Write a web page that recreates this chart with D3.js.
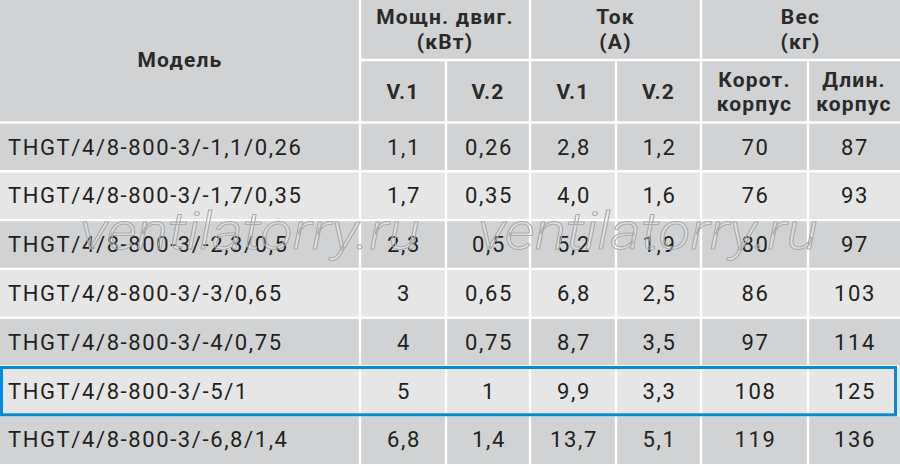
<!DOCTYPE html>
<html>
<head>
<meta charset="utf-8">
<script src="https://cdn.jsdelivr.net/npm/d3@7"></script>
<style>
  html, body { margin: 0; padding: 0; background: #fff; }
  svg { display: block; }
</style>
</head>
<body>
<script>
// table data
const models = [
  'THGT/4/8-800-3/-1,1/0,26',
  'THGT/4/8-800-3/-1,7/0,35',
  'THGT/4/8-800-3/-2,3/0,5',
  'THGT/4/8-800-3/-3/0,65',
  'THGT/4/8-800-3/-4/0,75',
  'THGT/4/8-800-3/-5/1',
  'THGT/4/8-800-3/-6,8/1,4'
]
const powerV1 = [1.1, 1.7, 2.3, 3, 4, 5, 6.8]
const powerV2 = [0.26, 0.35, 0.5, 0.65, 0.75, 1, 1.4]
const currentV1 = [2.8, 4.0, 5.2, 6.8, 8.7, 9.9, 13.7]
const currentV2 = [1.2, 1.6, 1.9, 2.5, 3.5, 3.3, 5.1]
const weightShort = [70, 76, 80, 86, 97, 108, 119]
const weightLong = [87, 93, 97, 103, 114, 125, 136]
const groupHeaders = [['Мощн. двиг.', '(кВт)'], ['Ток', '(А)'], ['Вес', '(кг)']]
const subHeaders = [['V.1'], ['V.2'], ['V.1'], ['V.2'], ['Корот.', 'корпус'], ['Длин.', 'корпус']]
const highlighted = 'THGT/4/8-800-3/-5/1'
const watermark = 'ventilatorry.ru'

const width = 900
const height = 466
const headerH = 122.5
const subTop = 60
const colEdges = [0, 360, 446, 530, 616, 701, 808, 900]

const comma = v => String(v).replace('.', ',')
const oneDec = v => d3.format('.1f')(v).replace('.', ',')

const columns = [
  { values: models, fmt: d => d },
  { values: powerV1, fmt: comma },
  { values: powerV2, fmt: comma },
  { values: currentV1, fmt: oneDec },
  { values: currentV2, fmt: oneDec },
  { values: weightShort, fmt: comma },
  { values: weightLong, fmt: comma }
]

const svg = d3.select('body').append('svg')
  .attr('width', width)
  .attr('height', height)

const y = d3.scaleBand()
  .domain(models)
  .range([headerH, headerH + 48.8 * models.length])

const dark = '#d1d2d4'
const light = '#e6e6e6'
const ink = '#231f20'
const font = 'Roboto, "Noto Sans", sans-serif'

// header background
svg.append('rect')
  .attr('x', 0).attr('y', 0)
  .attr('width', width).attr('height', headerH)
  .attr('fill', dark)

// row backgrounds
svg.selectAll('rect.row')
  .data(models)
  .enter().append('rect')
  .attr('class', 'row')
  .attr('x', 0)
  .attr('y', d => y(d))
  .attr('width', width)
  .attr('height', y.bandwidth())
  .attr('fill', (d, i) => i % 2 == 0 ? dark : light)

// grid lines
const lines = svg.append('g')
  .attr('stroke', '#fff')
  .attr('stroke-width', 2.4)

lines.append('line')
  .attr('x1', colEdges[1]).attr('x2', width)
  .attr('y1', subTop).attr('y2', subTop)

colEdges.slice(1, -1).forEach((x, i) => {
  lines.append('line')
    .attr('x1', x).attr('x2', x)
    .attr('y1', (i % 2 == 1) ? subTop : 0)
    .attr('y2', height)
})

models.forEach(m => {
  lines.append('line')
    .attr('x1', 0).attr('x2', width)
    .attr('y1', y(m)).attr('y2', y(m))
})

// header texts
function multiline(g, parts, cx, cy, lh) {
  const t = g.append('text')
    .attr('x', cx)
    .attr('text-anchor', 'middle')
  parts.forEach((p, k) => {
    t.append('tspan')
      .attr('x', cx)
      .attr('y', cy + (k - (parts.length - 1) / 2) * lh)
      .attr('dy', '0.35em')
      .text(p)
  })
}

const head = svg.append('g')
  .attr('font-family', font)
  .attr('font-weight', 700)
  .attr('font-size', 21)
  .attr('letter-spacing', 1.2)
  .attr('fill', '#2a2a2a')

multiline(head, ['Модель'], colEdges[1] / 2, 60, 0)
groupHeaders.forEach((h, i) => {
  const x0 = colEdges[1 + i * 2]
  const x1 = colEdges[3 + i * 2]
  multiline(head, h, (x0 + x1) / 2, 29, 25)
})
subHeaders.forEach((h, i) => {
  const cx = (colEdges[i + 1] + colEdges[i + 2]) / 2
  multiline(head, h, cx, 92, 24)
})

// body texts
const body = svg.append('g')
  .attr('font-family', font)
  .attr('font-size', 22)
  .attr('letter-spacing', 1.6)
  .attr('fill', ink)

columns.forEach((c, ci) => {
  body.selectAll('text.c' + ci)
    .data(c.values)
    .enter().append('text')
    .attr('class', 'c' + ci)
    .attr('x', ci == 0 ? 8 : (colEdges[ci] + colEdges[ci + 1]) / 2 + 1)
    .attr('y', (d, i) => y(models[i]) + y.bandwidth() / 2)
    .attr('dy', '0.35em')
    .attr('text-anchor', ci == 0 ? 'start' : 'middle')
    .text(d => c.fmt(d))
})

// watermark
svg.selectAll('text.wm')
  .data([80, 478])
  .enter().append('text')
  .attr('class', 'wm')
  .attr('x', d => d)
  .attr('y', 249)
  .attr('font-family', font)
  .attr('font-weight', 300)
  .attr('font-style', 'italic')
  .attr('font-size', 52)
  .attr('textLength', 340)
  .attr('lengthAdjust', 'spacingAndGlyphs')
  .attr('fill', 'rgba(255,255,255,0.25)')
  .attr('stroke', '#a9a9a9')
  .attr('stroke-width', 1)
  .text(watermark)

// highlighted row
svg.append('rect')
  .attr('x', 1.5)
  .attr('y', y(highlighted) + 1)
  .attr('width', 894)
  .attr('height', y.bandwidth() - 1.5)
  .attr('fill', 'none')
  .attr('stroke', '#0a8ad6')
  .attr('stroke-width', 3)
</script>
</body>
</html>
